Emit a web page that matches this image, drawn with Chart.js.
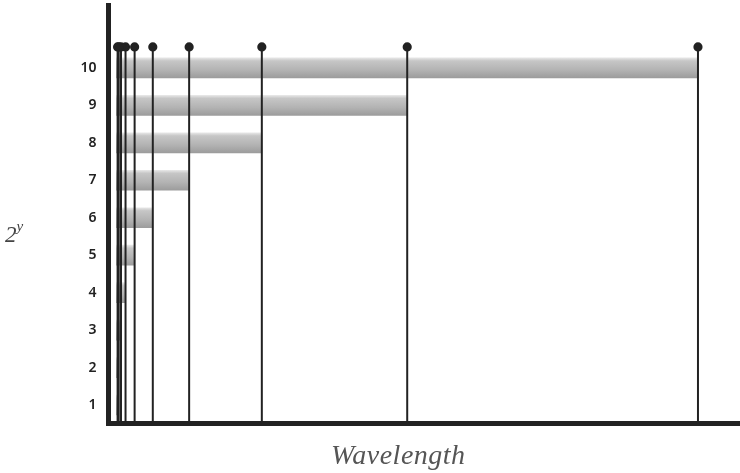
<!DOCTYPE html>
<html>
<head>
<meta charset="utf-8">
<script src="https://cdn.jsdelivr.net/npm/chart.js@4.4.1/dist/chart.umd.min.js"></script>
<style>
  body { margin: 0; background: #fff; }
  .wrap { position: relative; width: 740px; height: 473px; }
  .ytitle { position: absolute; left: 5px; top: 220px; font: italic 23px "Liberation Serif", serif; color: #444; }
  .ytitle sup { font-size: 15px; position: relative; top: -2px; }
  .xtitle { position: absolute; left: 331px; top: 439px; font: italic 28px "Liberation Serif", serif; color: #555; letter-spacing: 0.5px; }
</style>
</head>
<body>
<div class="wrap">
  <canvas id="chart" width="740" height="473"></canvas>
  <div class="ytitle">2<sup>y</sup></div>
  <div class="xtitle">Wavelength</div>
</div>
<script>
// rows on the y axis and the wavelength reached at each row
const rows = [1, 2, 3, 4, 5, 6, 7, 8, 9, 10];
const wavelengths = [2, 4, 8, 16, 32, 64, 128, 256, 512, 1024];
const yTickLabels = [1, 2, 3, 4, 5, 6, 7, 8, 9, 10];
const stemTop = 10.56;

const barFill = (c) => {
    const chart = c.chart;
    if (!chart.chartArea) return '#b5b5b5';
    const yc = chart.scales.y.getPixelForValue(rows[c.dataIndex]);
    const g = chart.ctx.createLinearGradient(0, yc - 10, 0, yc + 10);
    g.addColorStop(0, '#e6e6e6');
    g.addColorStop(0.15, '#c6c6c6');
    g.addColorStop(0.6, '#b3b3b3');
    g.addColorStop(1, '#9c9c9c');
    return g;
};

const stems = wavelengths.map(w => ({
    type: 'scatter',
    showLine: true,
    data: [{ x: w, y: 0.52 }, { x: w, y: stemTop }],
    borderColor: '#222',
    backgroundColor: '#222',
    borderWidth: 2,
    pointRadius: [0, 3.6],
    pointHoverRadius: 0,
    order: 1,
}));

new Chart(document.getElementById('chart'), {
    type: 'scatter',
    data: {
        datasets: [
            {
                type: 'bar',
                indexAxis: 'y',
                data: wavelengths.map((w, i) => ({ x: [0, w], y: rows[i] })),
                backgroundColor: barFill,
                borderWidth: 0,
                barThickness: 20,
                order: 2,
            },
            ...stems,
        ]
    },
    options: {
        responsive: false,
        animation: false,
        layout: { autoPadding: false, padding: { top: 5, left: 0, right: 0, bottom: 0 } },
        plugins: { legend: { display: false }, tooltip: { enabled: false } },
        scales: {
            x: {
                type: 'linear',
                offset: false,
                min: -14,
                max: 1098,
                grid: { display: false },
                ticks: { display: false },
                border: { display: true, color: '#222', width: 5 },
                afterFit: (s) => { s.height = 50; },
            },
            y: {
                type: 'linear',
                offset: false,
                min: 0.52,
                max: 11.68,
                afterBuildTicks: (s) => { s.ticks = yTickLabels.map(v => ({ value: v })); },
                grid: { display: false },
                ticks: { color: '#222', padding: 4, font: { family: 'Noto Sans', size: 14, weight: '600' } },
                border: { display: true, color: '#222', width: 5 },
                afterFit: (s) => { s.width = 108.5; s.paddingTop = 0; s.paddingBottom = 0; },
            }
        }
    }
});
</script>
</body>
</html>
